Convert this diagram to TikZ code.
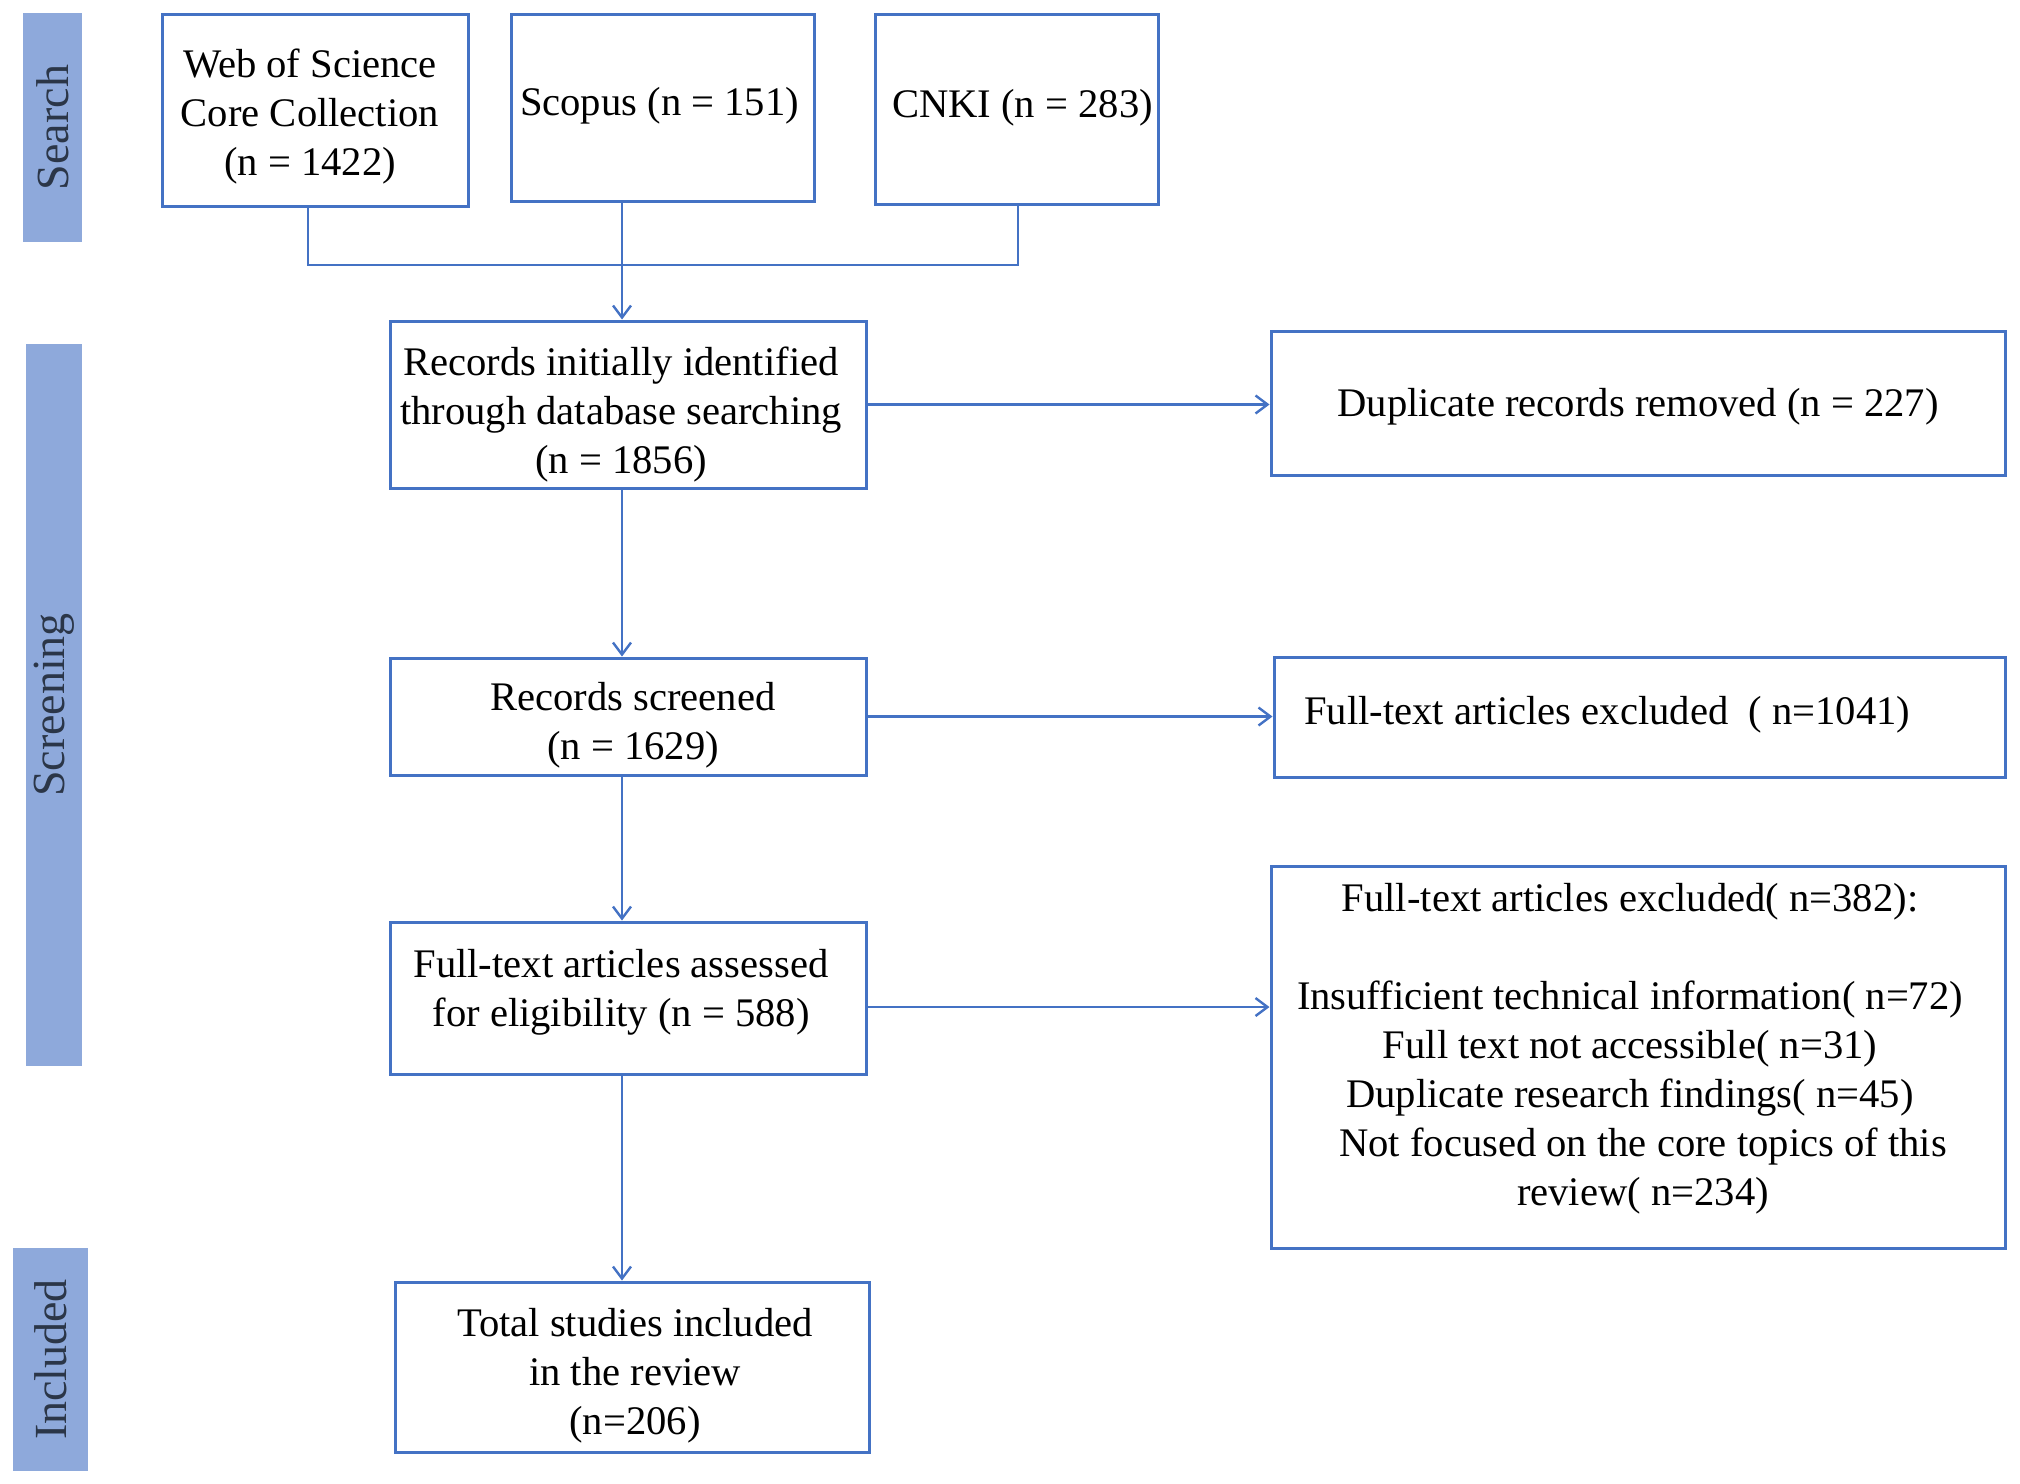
\documentclass[tikz,border=0pt]{standalone}
\usepackage{fontspec}
\setmainfont{Liberation Serif}
\usetikzlibrary{arrows.meta}
\definecolor{lineblue}{HTML}{4472C4}
\definecolor{barblue}{HTML}{8EA9DB}
\definecolor{labeltext}{HTML}{2B3648}
\begin{document}
\begin{tikzpicture}[x=0.5pt,y=-0.5pt,
  box/.style={draw=lineblue,line width=1.5pt,inner sep=0pt},
  txt/.style={align=center,inner sep=0pt,font=\fontsize{20.3}{24.5}\selectfont},
  bar/.style={fill=barblue,draw=none,inner sep=0pt},
  phase/.style={rotate=90,inner sep=0pt,font=\fontsize{23}{27}\selectfont,text=labeltext},
  conn/.style={draw=lineblue,line width=1.3pt},
  arr/.style={conn,-{Straight Barb[length=6pt,width=9pt,line width=1.2pt]}}]
\useasboundingbox (0,0) rectangle (2020,1484);

% phase bars
\node[bar,minimum width=29.5pt,minimum height=114.5pt] (searchbar) at (52.5,127.5) {};
\node[phase] (searchlbl) at (searchbar) {Search};
\node[bar,minimum width=28pt,minimum height=361pt] (screenbar) at (54,705) {};
\node[phase] (screenlbl) at (screenbar) {Screening};
\node[bar,minimum width=37.5pt,minimum height=111.5pt] (inclbar) at (50.5,1359.5) {};
\node[phase] (incllbl) at (inclbar) {Included};

% boxes
\node[box,minimum width=153pt,minimum height=96pt] (wos) at (315,110) {};
\node[box,minimum width=151.5pt,minimum height=93.5pt] (scopus) at (662.5,107.5) {};
\node[box,minimum width=141.5pt,minimum height=95pt] (cnki) at (1016.5,109) {};
\node[box,minimum width=238pt,minimum height=83.5pt] (rec) at (628,404.5) {};
\node[box,minimum width=367pt,minimum height=72pt] (dup) at (1638,403) {};
\node[box,minimum width=238pt,minimum height=58.5pt] (scr) at (628,716.5) {};
\node[box,minimum width=365.5pt,minimum height=60pt] (exa) at (1639.5,717) {};
\node[box,minimum width=238pt,minimum height=76pt] (ass) at (628,998) {};
\node[box,minimum width=367pt,minimum height=191pt] (exb) at (1638,1057) {};
\node[box,minimum width=237pt,minimum height=85pt] (tot) at (632,1367) {};

% texts
\node[txt] (wost) at (310,116.5) {Web of Science\\Core Collection\\(n = 1422)};
\node[txt] (scopust) at (659.5,106) {Scopus (n = 151)};
\node[txt] (cnkit) at (1022.5,108) {CNKI (n = 283)};
\node[txt] (rect) at (621,415) {Records initially identified\\through database searching\\(n = 1856)};
\node[txt] (dupt) at (1638,407) {Duplicate records removed (n = 227)};
\node[txt] (scrt) at (633,725.5) {Records screened\\(n = 1629)};
\node[txt,anchor=west] (exat) at (1304,714.5) {Full-text articles excluded\ \ ( n=1041)};
\node[txt] (asst) at (621,992) {Full-text articles assessed\\for eligibility (n = 588)};
\node[txt] (exbt) at (1630,1049)
  {Full-text articles excluded( n=382):\\[24.5pt]
   Insufficient technical information( n=72)\\
   Full text not accessible( n=31)\\
   Duplicate research findings( n=45)\\
   \hspace*{13pt}Not focused on the core topics of this\\
   \hspace*{13pt}review( n=234)};
\node[txt] (tott) at (635,1376) {Total studies included\\in the review\\(n=206)};

% connectors
\coordinate (wosx) at (308,265);
\coordinate (cnkix) at (1018,265);
\coordinate (spine) at (622,0);
\draw[conn] (wosx |- wos.south) -- (wosx) -- (cnkix) -- (cnkix |- cnki.south);
\draw[arr] (spine |- scopus.south) -- (spine |- rec.north);
\draw[arr] (spine |- rec.south) -- (spine |- scr.north);
\draw[arr] (spine |- scr.south) -- (spine |- ass.north);
\draw[arr] (spine |- ass.south) -- (spine |- tot.north);
\draw[arr] (rec.east) -- (rec.east -| dup.west);
\draw[arr] (scr.east) -- (scr.east -| exa.west);
\coordinate (ay) at (0,1007);
\draw[arr] (ass.east |- ay) -- (exb.west |- ay);
\end{tikzpicture}
\end{document}
